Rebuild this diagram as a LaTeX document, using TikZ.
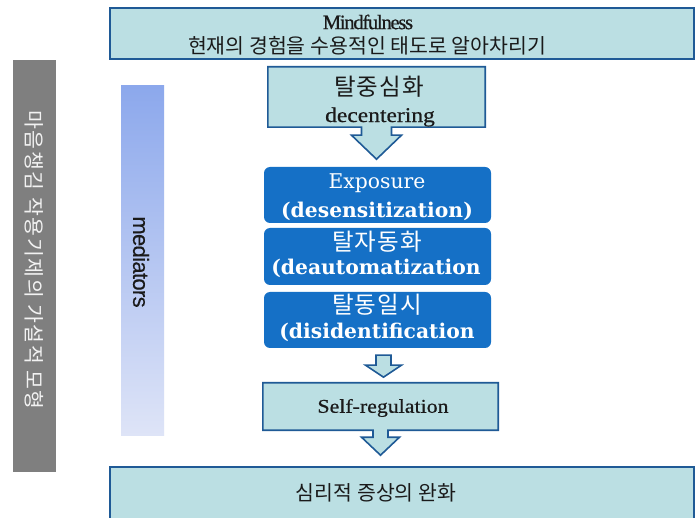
\documentclass[tikz,border=0pt]{standalone}
\usepackage{fontspec}
\usetikzlibrary{calc}
\setmainfont{Liberation Serif}
\newfontfamily\kr{Noto Sans CJK KR}
\newfontfamily\krw[LetterSpace=5]{Noto Sans CJK KR}
\newfontfamily\krg[LetterSpace=8]{Noto Sans CJK KR}
\newfontfamily\wserif[FakeStretch=1.12,FakeBold=0.6]{Liberation Serif}
\newfontfamily\nserif[LetterSpace=-6,FakeBold=0.6]{Liberation Serif}
\newfontfamily\cam{DejaVu Serif}
\newfontfamily\asans[LetterSpace=-3,FakeBold=0.4]{Liberation Sans}
\definecolor{boxfill}{HTML}{BBDFE3}
\definecolor{boxline}{HTML}{1F5A96}
\definecolor{medblue}{HTML}{1570C6}
\definecolor{greybar}{HTML}{7F7F7F}
\definecolor{gradtop}{HTML}{8CA8EC}
\definecolor{gradbot}{HTML}{DEE4F7}
\definecolor{txt}{HTML}{1A1A1A}
\begin{document}
\begin{tikzpicture}[x=1pt,y=-1pt,
  lightbox/.style={fill=boxfill,draw=boxline,line width=1.6pt,line join=miter},
  frame/.style={inner sep=0pt,draw=none},
  medbox/.style={fill=medblue,rounded corners=6pt,draw=none,minimum width=227pt,inner sep=0pt},
  lat/.style={font=\wserif\fontsize{19.5}{22}\selectfont,text=txt,inner sep=0pt},
  kor/.style={font=\kr\fontsize{20.5}{23}\selectfont,text=txt,inner sep=0pt},
  korw/.style={font=\krw\fontsize{23.5}{26}\selectfont,text=white,inner sep=0pt},
  camr/.style={font=\cam\fontsize{20.3}{24}\selectfont,text=white,inner sep=0pt},
  camb/.style={font=\cam\bfseries\fontsize{20.3}{24}\selectfont,text=white,inner sep=0pt}]
\clip (0,0) rectangle (696,518);
\fill[white] (0,0) rectangle (696,518);

% left grey bar
\node[fill=greybar,minimum width=43pt,minimum height=412pt,inner sep=0pt] (gbar) at (34.5,266) {};
\node[rotate=-90,font=\krg\fontsize{20.5}{22}\selectfont,text=white!95!black,inner sep=0pt] (gbart) at (34.5,260) {마음챙김 작용기제의 가설적 모형};

% mediators gradient bar
\node[top color=gradtop,bottom color=gradbot,minimum width=43pt,minimum height=349pt,inner sep=0pt] (mbar) at (142.5,260.5) {};
\node[rotate=-90,font=\asans\fontsize{22}{24}\selectfont,text=txt,inner sep=0pt] (mbart) at (141,262) {mediators};

% top box
\node[lightbox,minimum width=584pt,minimum height=51pt,inner sep=0pt] (mind) at (402,33.5) {};
\node[font=\nserif\fontsize{20.5}{22}\selectfont,text=txt,inner sep=0pt] (mindt) at (368,22) {Mindfulness};
\node[kor] (mindk) at (367,46) {현재의 경험을 수용적인 태도로 알아차리기};

% decentering callout
\node[frame,minimum width=217pt,minimum height=60pt] (dec) at (376.5,97) {};
\filldraw[lightbox] (dec.north west) -- (dec.north east) -- (dec.south east)
  -- ($(dec.south)+(15,0)$) -- ($(dec.south)+(15,8)$) -- ($(dec.south)+(25,8)$)
  -- ($(dec.south)+(0,32)$) -- ($(dec.south)+(-25,8)$) -- ($(dec.south)+(-15,8)$)
  -- ($(dec.south)+(-15,0)$) -- (dec.south west) -- cycle;
\node[font=\krw\fontsize{23.5}{26}\selectfont,text=txt,inner sep=0pt] (deck) at (379,87) {탈중심화};
\node[lat,font=\wserif\fontsize{21}{23}\selectfont] (dect) at (380,117) {decentering};

% mediator boxes
\node[medbox,minimum height=56pt] (m1) at (377.5,195) {};
\node[camr] at (377,183) {Exposure};
\node[camb] at (377,211) {(desensitization)};
\node[medbox,minimum height=57pt] (m2) at (377.5,256.5) {};
\node[korw] at (377,242) {탈자동화};
\node[camb] at (376,268) {(deautomatization};
\node[medbox,minimum height=56pt] (m3) at (377.5,320) {};
\node[korw] at (377,305) {탈동일시};
\node[camb] at (377,332) {(disidentification};

% small arrow m3 -> selfreg
\coordinate (sa) at ($(m3.south)+(6,7)$);
\filldraw[lightbox] ($(sa)+(-7.5,0)$) -- ($(sa)+(7.5,0)$) -- ($(sa)+(7.5,10)$) -- ($(sa)+(18,10)$)
  -- ($(sa)+(0,22)$) -- ($(sa)+(-18,10)$) -- ($(sa)+(-7.5,10)$) -- cycle;

% self-regulation callout
\node[frame,minimum width=235pt,minimum height=47pt] (sr) at (380.5,406.5) {};
\filldraw[lightbox] (sr.north west) -- (sr.north east) -- (sr.south east)
  -- ($(sr.south)+(7.5,0)$) -- ($(sr.south)+(7.5,7)$) -- ($(sr.south)+(19,7)$)
  -- ($(sr.south)+(0,25)$) -- ($(sr.south)+(-19,7)$) -- ($(sr.south)+(-7.5,7)$)
  -- ($(sr.south)+(-7.5,0)$) -- (sr.south west) -- cycle;
\node[lat] (srt) at (383,408) {Self-regulation};

% bottom box
\node[lightbox,minimum width=584pt,minimum height=56pt,inner sep=0pt] (bot) at (402,495) {};
\node[kor] (botk) at (376,493) {심리적 증상의 완화};
\end{tikzpicture}
\end{document}
